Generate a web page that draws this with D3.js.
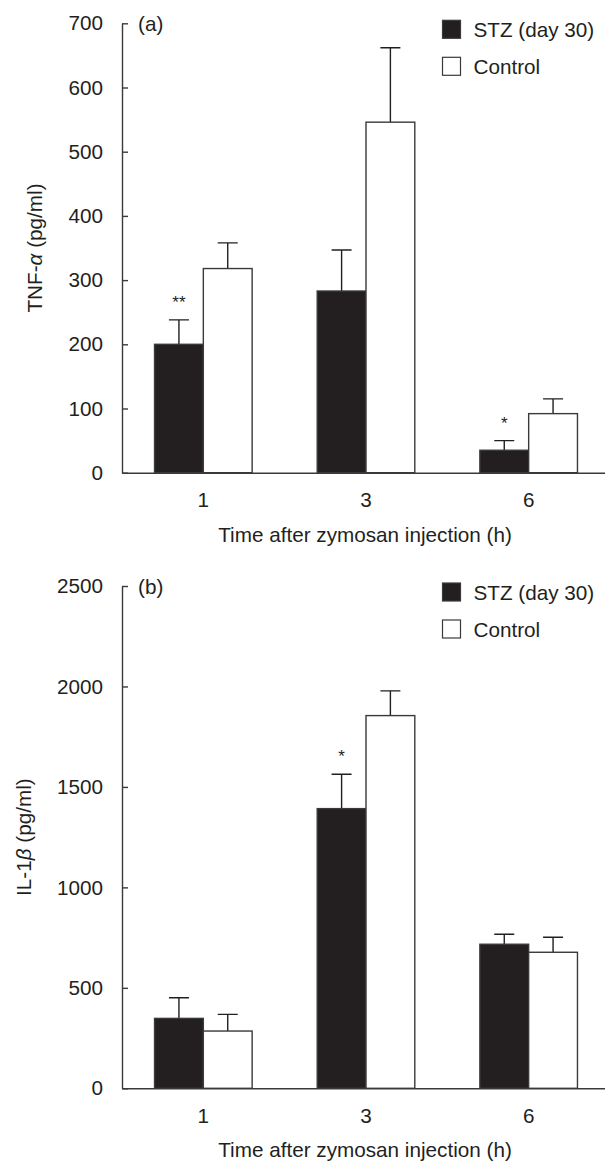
<!DOCTYPE html>
<html>
<head>
<meta charset="utf-8">
<script src="https://cdn.jsdelivr.net/npm/d3@7"></script>
<style>
  body { margin: 0; background: #fff; }
  svg { display: block; font-family: "Liberation Sans", Arial, sans-serif; }
</style>
</head>
<body>
<svg id="chart" width="605" height="1162"></svg>
<script>
// data
const timeLabels = ["1", "3", "6"];
const seriesNames = ["STZ (day 30)", "Control"];

const tnfStz = [200, 283, 35];
const tnfStzErr = [38, 64, 15];
const tnfControl = [318, 546, 92];
const tnfControlErr = [40, 116, 23];
const tnfStars = ["**", "", "*"];
const tnfTicks = [0, 100, 200, 300, 400, 500, 600, 700];

const il1Stz = [348, 1392, 717];
const il1StzErr = [103, 171, 50];
const il1Control = [285, 1855, 677];
const il1ControlErr = [83, 123, 75];
const il1Stars = ["", "*", ""];
const il1Ticks = [0, 500, 1000, 1500, 2000, 2500];

const ink = "#231f20";
const line = "#3a3a3a";
const fontSize = "20.7px";

const svg = d3.select("#chart");

// x scales shared by both panels
const x = d3.scaleBand()
    .domain(timeLabels)
    .range([122, 610])
    .paddingInner(0.4)
    .paddingOuter(0.2);

const xSub = d3.scaleBand()
    .domain(seriesNames)
    .range([0, x.bandwidth()]);

function drawPanel(p) {
    const y = d3.scaleLinear()
        .domain([0, p.ticks[p.ticks.length - 1]])
        .range([p.bottom, p.top]);

    const g = svg.append("g");

    const rows = timeLabels.map((t, i) => ({
        time: t,
        vals: [
            { s: seriesNames[0], v: p.stz[i], e: p.stzErr[i] },
            { s: seriesNames[1], v: p.ctrl[i], e: p.ctrlErr[i] }
        ],
        star: p.stars[i]
    }));

    const grp = g.selectAll(".grp")
        .data(rows)
        .enter()
        .append("g")
        .attr("class", "grp")
        .attr("transform", d => "translate(" + x(d.time) + ",0)");

    // error bars (upper only), drawn first so bars sit on top
    grp.selectAll(".err")
        .data(d => d.vals)
        .enter()
        .append("path")
        .attr("class", "err")
        .attr("fill", "none")
        .attr("stroke", ink)
        .attr("stroke-width", 1.4)
        .attr("d", d => {
            const cx = xSub(d.s) + xSub.bandwidth() / 2;
            return "M" + cx + "," + y(d.v) + "V" + y(d.v + d.e) +
                "M" + (cx - 10) + "," + y(d.v + d.e) + "H" + (cx + 10);
        });

    grp.selectAll(".bar")
        .data(d => d.vals)
        .enter()
        .append("rect")
        .attr("class", "bar")
        .attr("x", d => xSub(d.s))
        .attr("width", xSub.bandwidth())
        .attr("y", d => y(d.v))
        .attr("height", d => y(0) - y(d.v))
        .style("fill", (d, i) => i === 0 ? ink : "#fff")
        .attr("stroke", line)
        .attr("stroke-width", 1.4);

    grp.append("text")
        .attr("x", xSub(seriesNames[0]) + xSub.bandwidth() / 2)
        .attr("y", d => y(d.vals[0].v + d.vals[0].e) - 12)
        .attr("text-anchor", "middle")
        .attr("fill", ink)
        .style("font-size", "17px")
        .text(d => d.star);

    // y axis, ticks pointing inward
    const yAxis = g.append("g")
        .attr("transform", "translate(122,0)")
        .call(d3.axisLeft(y)
            .tickValues(p.ticks)
            .tickFormat(d3.format("d"))
            .tickSizeInner(-6)
            .tickSizeOuter(0)
            .tickPadding(19));
    yAxis.selectAll("path, line").attr("stroke", line).attr("stroke-width", 1.4);
    yAxis.selectAll("text").style("font-size", fontSize).attr("fill", ink)
        .attr("font-family", null);

    // x axis, no ticks
    const xAxis = g.append("g")
        .attr("transform", "translate(0," + p.bottom + ")")
        .call(d3.axisBottom(x).tickSize(0).tickPadding(20));
    xAxis.select(".domain").attr("stroke", line).attr("stroke-width", 1.6);
    xAxis.selectAll("text").style("font-size", fontSize).attr("fill", ink)
        .attr("font-family", null);

    g.append("text")
        .attr("x", 365)
        .attr("y", p.bottom + 69)
        .attr("text-anchor", "middle")
        .attr("fill", ink)
        .style("font-size", fontSize)
        .text("Time after zymosan injection (h)");

    const yt = g.append("text")
        .attr("transform", "translate(" + p.titleX + "," + (p.top + p.bottom) / 2 + ") rotate(-90)")
        .attr("text-anchor", "middle")
        .attr("fill", ink)
        .style("font-size", fontSize);
    yt.append("tspan").text(p.yName);
    yt.append("tspan").style("font-style", "italic").text(p.greek);
    yt.append("tspan").text(" (pg/ml)");

    g.append("text")
        .attr("x", 138)
        .attr("y", p.top + 8)
        .attr("fill", ink)
        .style("font-size", fontSize)
        .text(p.letter);

    // legend
    const leg = g.selectAll(".leg")
        .data(seriesNames)
        .enter()
        .append("g")
        .attr("class", "leg")
        .attr("transform", (d, i) => "translate(442.5," + (p.top - 3 + i * 37) + ")");
    leg.append("rect")
        .attr("width", 18)
        .attr("height", 18)
        .style("fill", (d, i) => i === 0 ? ink : "#fff")
        .attr("stroke", line)
        .attr("stroke-width", 1.2);
    leg.append("text")
        .attr("x", 31)
        .attr("y", 17)
        .attr("fill", ink)
        .style("font-size", fontSize)
        .text(d => d);
}

drawPanel({
    top: 23.3, bottom: 472.7, ticks: tnfTicks,
    stz: tnfStz, stzErr: tnfStzErr, ctrl: tnfControl, ctrlErr: tnfControlErr,
    stars: tnfStars, yName: "TNF-", greek: "α", letter: "(a)", titleX: 42
});

drawPanel({
    top: 586, bottom: 1088.3, ticks: il1Ticks,
    stz: il1Stz, stzErr: il1StzErr, ctrl: il1Control, ctrlErr: il1ControlErr,
    stars: il1Stars, yName: "IL-1", greek: "β", letter: "(b)", titleX: 31
});
</script>
</body>
</html>
